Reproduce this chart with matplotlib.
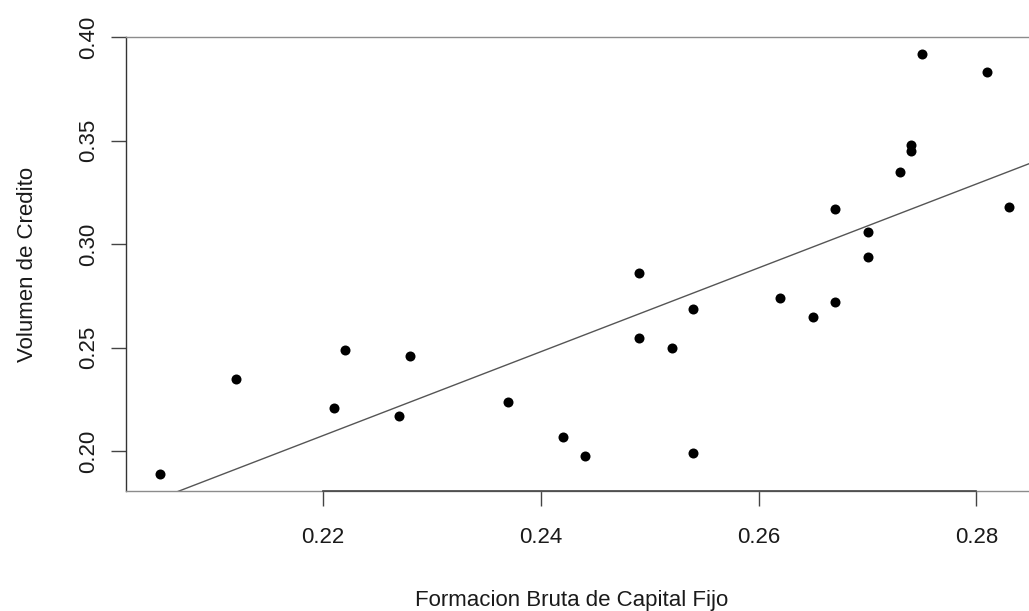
import numpy as np
import matplotlib
matplotlib.use("Agg")
import matplotlib.pyplot as plt
import matplotlib.transforms as mtransforms

# Formacion Bruta de Capital Fijo vs Volumen de Credito
fbcf = [0.205, 0.212, 0.221, 0.222, 0.227, 0.228, 0.237, 0.242, 0.244,
        0.249, 0.249, 0.252, 0.254, 0.254, 0.262, 0.265, 0.267, 0.267,
        0.270, 0.270, 0.273, 0.274, 0.274, 0.275, 0.281, 0.283]
credito = [0.189, 0.235, 0.221, 0.249, 0.217, 0.246, 0.224, 0.207, 0.198,
           0.286, 0.255, 0.250, 0.269, 0.199, 0.274, 0.265, 0.317, 0.272,
           0.306, 0.294, 0.335, 0.348, 0.345, 0.392, 0.383, 0.318]
xticks = [0.22, 0.24, 0.26, 0.28]
yticks = [0.20, 0.25, 0.30, 0.35, 0.40]

plt.rcParams["font.family"] = ["Liberation Sans", "DejaVu Sans"]

x = np.array(fbcf)
y = np.array(credito)

# R-style axis ranges: data range extended by 4% on each side
xpad = 0.04 * (x.max() - x.min())
ypad = 0.04 * (y.max() - y.min())
xlim = (x.min() - xpad, x.max() + xpad)
ylim = (y.min() - ypad, y.max() + ypad)

W, H = 1029, 611
fig = plt.figure(figsize=(W / 100, H / 100), dpi=100)
# plot region runs a bit past the right edge of the image, as in the reference
left, right, top, bottom = 126, 1043, 37, 491
ax = fig.add_axes([left / W, 1 - bottom / H, (right - left) / W, (bottom - top) / H])

ax.scatter(x, y, s=52, color="black", zorder=3, linewidths=0)

# least squares line (abline(lm(y ~ x)))
b, a = np.polyfit(x, y, 1)
xx = np.array(xlim)
ax.plot(xx, a + b * xx, color="#555555", lw=1.0)

ax.set_xlim(*xlim)
ax.set_ylim(*ylim)

for side in ["top", "bottom", "left", "right"]:
    ax.spines[side].set_color("#8c8c8c")
    ax.spines[side].set_linewidth(1.0)
ax.spines["left"].set_color("#333333")

# darker axis segment spanning the tick range, like R's axis()
tb = mtransforms.blended_transform_factory(ax.transData, ax.transAxes)
ax.plot([xticks[0], xticks[-1]], [0, 0], transform=tb, color="#444444",
        lw=1.2, clip_on=False, zorder=4)

ax.set_xticks(xticks)
ax.set_xticklabels([f"{v:.2f}" for v in xticks])
ax.set_yticks(yticks)
ax.set_yticklabels([f"{v:.2f}" for v in yticks], rotation=90, va="center")
ax.tick_params(axis="both", direction="out", length=11, width=1.0,
               color="#444444", labelsize=16, labelcolor="#1a1a1a")
ax.tick_params(axis="x", pad=15)
ax.tick_params(axis="y", pad=8)

ax.set_xlabel("Formacion Bruta de Capital Fijo", fontsize=16, color="#1a1a1a")
ax.set_ylabel("Volumen de Credito", fontsize=16, color="#1a1a1a")
ax.xaxis.set_label_coords((572 - left) / (right - left), -(590 - bottom) / (bottom - top))
ax.xaxis.label.set_va("top")
ax.yaxis.set_label_coords(-(left - 17) / (right - left), 0.5)
ax.yaxis.label.set_va("top")

fig.savefig("out.png", dpi=100)
